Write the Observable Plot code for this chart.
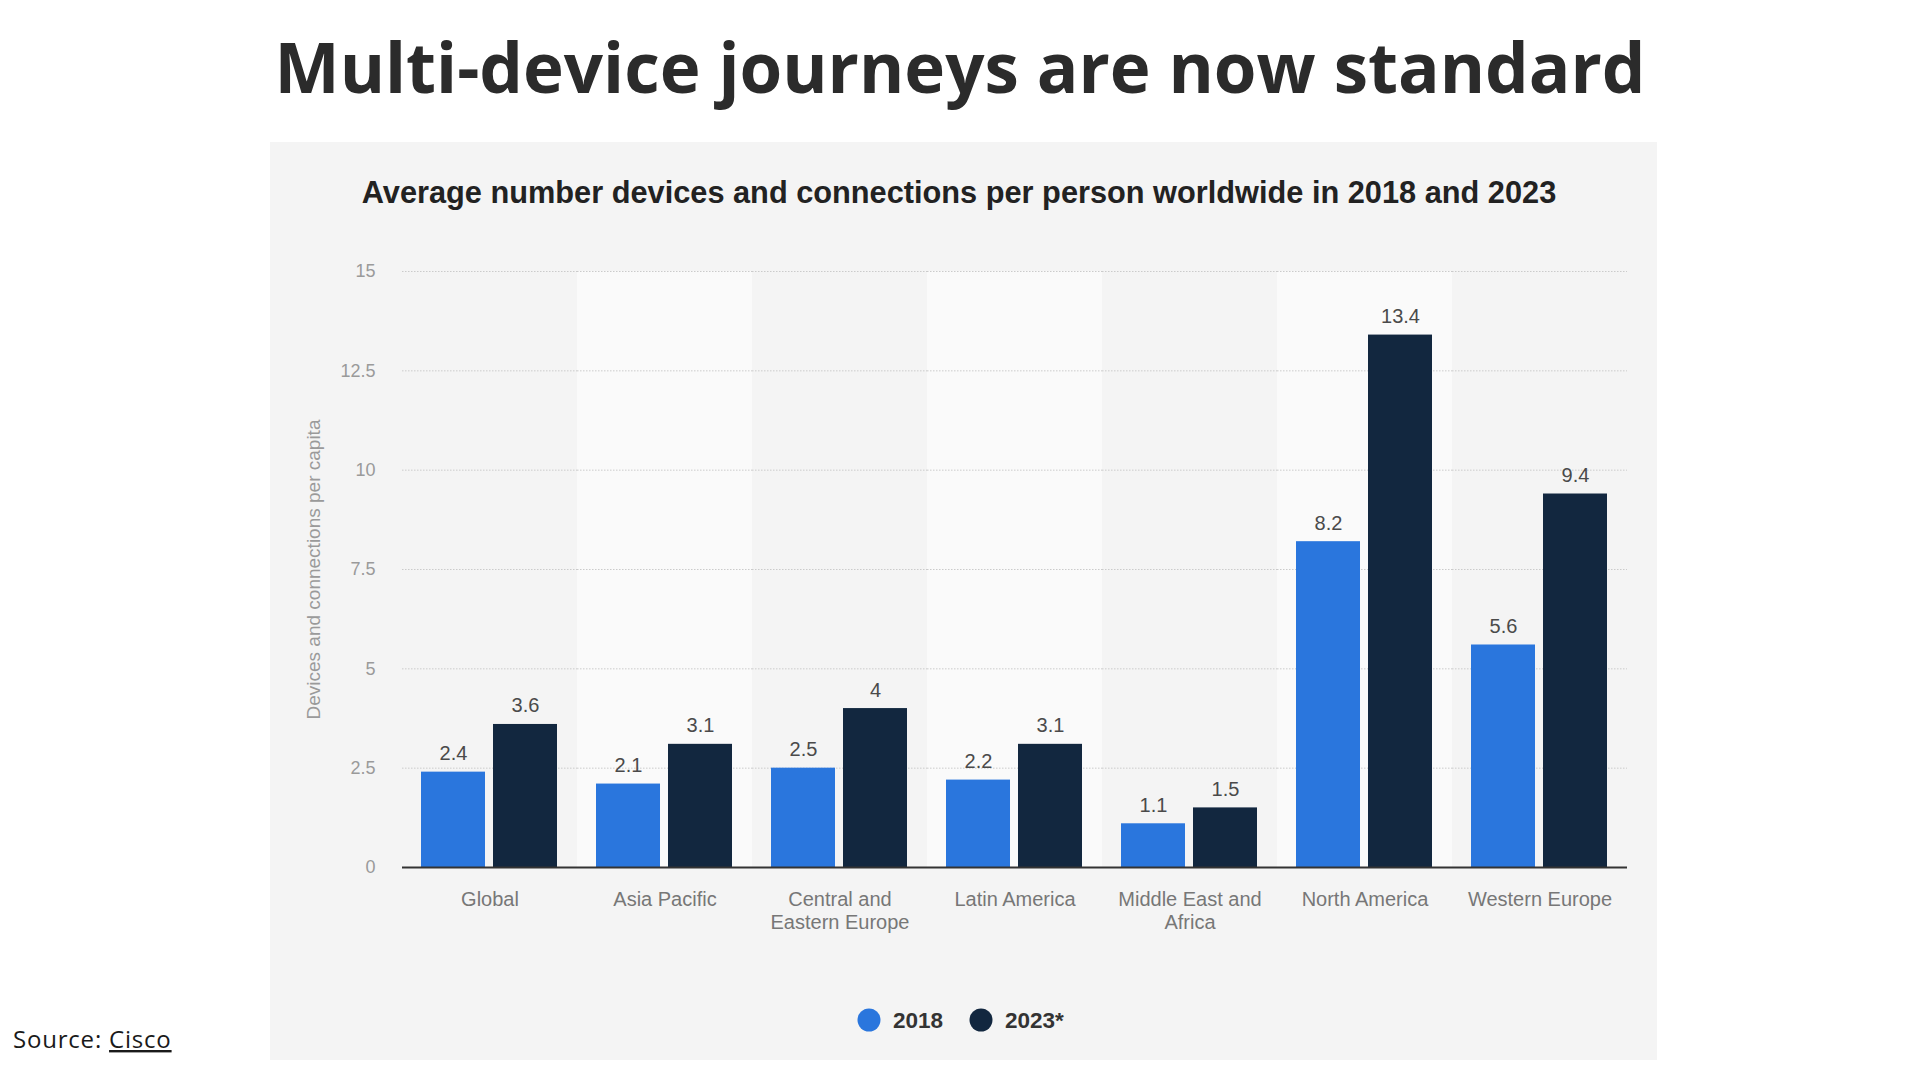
<!DOCTYPE html>
<html>
<head>
<meta charset="utf-8">
<script src="https://cdn.jsdelivr.net/npm/d3@7"></script>
<script src="https://cdn.jsdelivr.net/npm/@observablehq/plot@0.6"></script>
<style>
  html, body { margin: 0; padding: 0; background: #fff; width: 1920px; height: 1080px; overflow: hidden; }
  #page { position: relative; width: 1920px; height: 1080px; }
  #decor { position: absolute; left: 0; top: 0; }
  #chart { position: absolute; left: 270px; top: 240px; }
</style>
</head>
<body>
<div id="page">
  <svg id="decor" width="1920" height="1080"></svg>
  <div id="chart"></div>
</div>
<script>
// ---- data ----
const regions = ["Global", "Asia Pacific", "Central and Eastern Europe", "Latin America", "Middle East and Africa", "North America", "Western Europe"];
const regionTickLabels = ["Global", "Asia Pacific", "Central and\nEastern Europe", "Latin America", "Middle East and\nAfrica", "North America", "Western Europe"];
const years = ["2018", "2023*"];
const values2018 = [2.4, 2.1, 2.5, 2.2, 1.1, 8.2, 5.6];
const values2023 = [3.6, 3.1, 4, 3.1, 1.5, 13.4, 9.4];
const yTicks = [0, 2.5, 5, 7.5, 10, 12.5, 15];
const yearColors = ["#2a76dd", "#12273f"];
const titleText = "Multi-device journeys are now standard";
const subtitleText = "Average number devices and connections per person worldwide in 2018 and 2023";
const yLabelText = "Devices and connections per capita";

const rows = regions.flatMap((region, i) => [
  {region, year: years[0], value: values2018[i]},
  {region, year: years[1], value: values2023[i]}
]);
const shadedBands = regions.filter((_, i) => i % 2 === 1).map(region => ({region}));

// ---- chart ----
const chart = Plot.plot({
  width: 1387,
  height: 720,
  marginTop: 31,
  marginBottom: 93,
  marginLeft: 130,
  marginRight: 28,
  style: {fontFamily: '"Liberation Sans", Arial, sans-serif', background: "transparent", overflow: "visible"},
  fx: {domain: regions, padding: 0, label: null, axis: null},
  x: {domain: years, paddingInner: 0.11, paddingOuter: 0.257, axis: null},
  y: {domain: [0, 15], label: null},
  color: {domain: years, range: yearColors},
  marks: [
    Plot.rect(shadedBands, {fx: "region", y1: 0, y2: 15, fill: "#fafafa"}),
    Plot.ruleY(yTicks.filter(v => v > 0), {stroke: "#cbcbcb", strokeDasharray: "1.5,1.5"}),
    Plot.barY(rows, {fx: "region", x: "year", y: "value", fill: "year"}),
    Plot.ruleY([0], {stroke: "#333", strokeWidth: 2}),
    Plot.text(rows, {fx: "region", x: "year", y: "value", text: d => String(d.value), dy: -12, lineAnchor: "bottom", fontSize: 20, fill: "#4a4a4a"}),
    Plot.axisY({ticks: yTicks, tickSize: 0, tickPadding: 27, fontSize: 18, color: "#9a9a9a", label: null, tickFormat: d => String(d)}),
    Plot.axisFx({anchor: "bottom", tickSize: 0, tickPadding: 22, fontSize: 20, color: "#777", label: null, lineHeight: 1.15, tickFormat: d => regionTickLabels[regions.indexOf(d)]}),
    Plot.text([{region: regions[0], label: yLabelText}], {fx: "region", text: "label", frameAnchor: "left", textAnchor: "middle", rotate: -90, dx: -89, fontSize: 19, fill: "#9a9a9a"})
  ]
});
document.getElementById("chart").appendChild(chart);

// ---- page decoration: panel, titles, legend, source ----
const svg = d3.select("#decor");
svg.append("rect").attr("x", 270).attr("y", 142).attr("width", 1387).attr("height", 918).attr("fill", "#f4f4f4");

function fitText(sel, targetWidth, startSize) {
  sel.attr("font-size", startSize);
  const w = sel.node().getComputedTextLength();
  sel.attr("font-size", startSize * targetWidth / w);
}

const title = svg.append("text").attr("x", 960).attr("y", 93).attr("text-anchor", "middle")
  .attr("font-family", '"Open Sans", "DejaVu Sans", sans-serif').attr("font-weight", 700)
  .attr("fill", "#2b2b2b").text(titleText);
fitText(title, 1371, 70);

const sub = svg.append("text").attr("x", 959).attr("y", 203).attr("text-anchor", "middle")
  .attr("font-family", '"Liberation Sans", Arial, sans-serif').attr("font-weight", 700)
  .attr("fill", "#222").text(subtitleText);
fitText(sub, 1195, 30);

// legend
const leg = svg.append("g").attr("font-family", '"Liberation Sans", Arial, sans-serif').attr("font-weight", 700).attr("font-size", 22.5).attr("fill", "#333");
const legX = [869, 981];
years.forEach((y, i) => {
  leg.append("circle").attr("cx", legX[i]).attr("cy", 1020).attr("r", 11.5).attr("fill", yearColors[i]);
  leg.append("text").attr("x", legX[i] + 24).attr("y", 1028).text(y);
});

// source
const src = svg.append("text").attr("x", 13).attr("y", 1048)
  .attr("font-family", '"Open Sans", sans-serif').attr("font-size", 24).attr("letter-spacing", 0.8).attr("fill", "#1a1a1a");
src.append("tspan").text("Source: ");
src.append("tspan").attr("text-decoration", "underline").text("Cisco");
</script>
</body>
</html>
